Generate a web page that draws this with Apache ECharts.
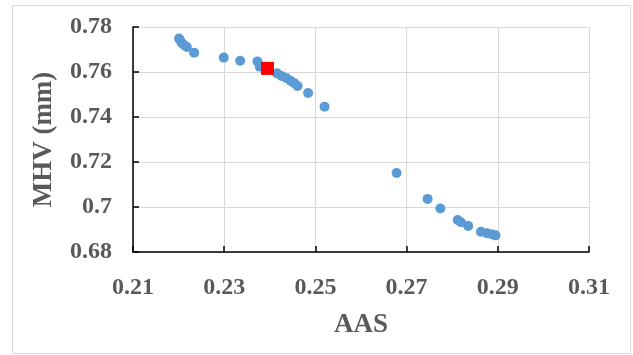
<!DOCTYPE html>
<html>
<head>
<meta charset="utf-8">
<script src="https://cdn.jsdelivr.net/npm/echarts@6/dist/echarts.min.js"></script>
<style>
html,body{margin:0;padding:0;background:#fff;}
#c{width:633px;height:355px;}
</style>
</head>
<body>
<div id="c"></div>
<script>
// Data
var aasBlue = [0.2201,0.2203,0.2207,0.2212,0.2218,0.2234,0.2299,0.2335,0.2373,0.2378,0.2416,0.2426,0.2437,0.2446,0.2454,0.2461,0.2484,0.2520,0.2678,0.2746,0.2774,0.2812,0.2819,0.2835,0.2863,0.2876,0.2887,0.2895];
var mhvBlue = [0.7749,0.7742,0.7729,0.7720,0.7711,0.7686,0.7664,0.7650,0.7647,0.7624,0.7594,0.7582,0.7572,0.7560,0.7550,0.7538,0.7507,0.7446,0.7151,0.7036,0.6993,0.6942,0.6932,0.6916,0.6890,0.6883,0.6879,0.6874];
var aasRed = [0.2395];
var mhvRed = [0.7616];
var xTicks = [0.21,0.23,0.25,0.27,0.29,0.31];
var yTicks = [0.68,0.70,0.72,0.74,0.76,0.78];
var xName = 'AAS';
var yName = 'MHV (mm)';

function pairs(xs, ys){ return xs.map(function(x,i){ return [x, ys[i]]; }); }
function fmt(v){ return String(parseFloat(Number(v).toFixed(4))); }

var fontFam = '"Liberation Serif","Times New Roman",serif';
var txtColor = '#595959';

var chart = echarts.init(document.getElementById('c'), null, {renderer:'canvas'});
chart.setOption({
  animation:false,
  backgroundColor:'#fff',
  graphic:[{
    type:'rect', shape:{x:12.5,y:5.5,width:618,height:348},
    style:{fill:'none', stroke:'#D9D9D9', lineWidth:1}, silent:true, z:-1
  }],
  grid:{left:133, top:27, width:456, height:225, containLabel:false},
  xAxis:{
    type:'value', min:xTicks[0], max:xTicks[xTicks.length-1],
    name:xName, nameLocation:'middle', nameGap:60,
    nameTextStyle:{fontFamily:fontFam, fontWeight:'bold', fontSize:27, color:txtColor},
    axisLine:{show:true, onZero:false, lineStyle:{color:'#000', width:1.5}},
    axisTick:{show:true, inside:true, length:6, customValues:xTicks, lineStyle:{color:'#000', width:1.5}},
    axisLabel:{customValues:xTicks, formatter:fmt, margin:24, fontFamily:fontFam, fontWeight:'bold', fontSize:24, color:txtColor},
    splitLine:{show:true, lineStyle:{color:'#D9D9D9', width:1}}
  },
  yAxis:{
    type:'value', min:yTicks[0], max:yTicks[yTicks.length-1],
    name:yName, nameLocation:'middle', nameGap:75,
    nameTextStyle:{fontFamily:fontFam, fontWeight:'bold', fontSize:27, color:txtColor},
    axisLine:{show:true, onZero:false, lineStyle:{color:'#000', width:1.5}},
    axisTick:{show:true, inside:true, length:6, customValues:yTicks, lineStyle:{color:'#000', width:1.5}},
    axisLabel:{customValues:yTicks, formatter:fmt, margin:21, fontFamily:fontFam, fontWeight:'bold', fontSize:24, color:txtColor},
    splitLine:{show:true, lineStyle:{color:'#D9D9D9', width:1}}
  },
  series:[
    {type:'scatter', data:pairs(aasBlue, mhvBlue), symbol:'circle', symbolSize:10,
     itemStyle:{color:'#5B9BD5', opacity:1}, z:2},
    {type:'scatter', data:pairs(aasRed, mhvRed), symbol:'rect', symbolSize:13,
     itemStyle:{color:'#FF0000', opacity:1}, z:3}
  ]
});
</script>
</body>
</html>
